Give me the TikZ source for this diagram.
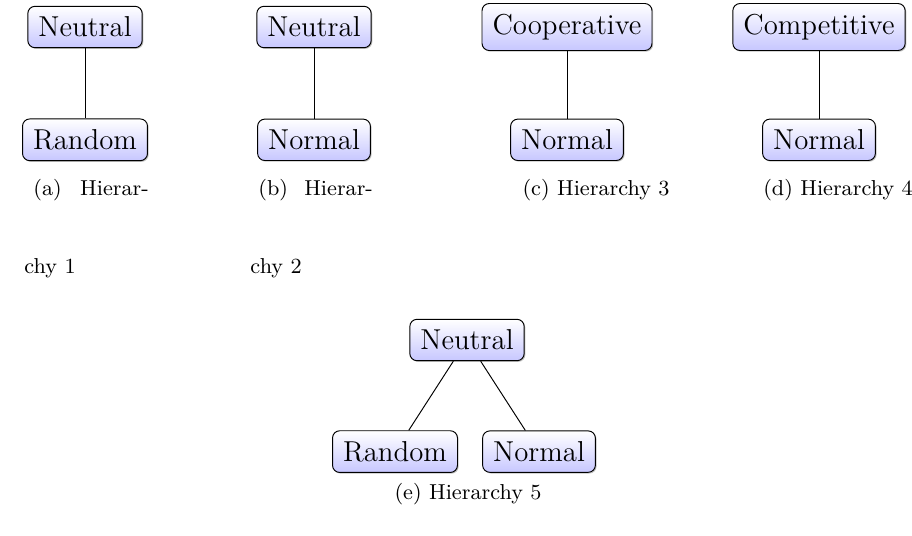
\documentclass[tikz,border=0pt]{standalone}
\usepackage{tikz}
\usetikzlibrary{shapes,positioning,shadows}

\begin{document}
\begin{tikzpicture}[x=0.41667pt,y=-0.41667pt]
    \tikzstyle{hnode}=[rectangle,draw,rounded corners=3pt,inner sep=4.4pt,font=\large,top color=white,bottom color=blue!22,drop shadow={shadow xshift=.5pt,shadow yshift=-.5pt,opacity=.5}]
    \tikzstyle{subcap}=[font=\fontsize{9}{11}\selectfont,inner sep=0pt]
    \useasboundingbox (0,0) rectangle (912,535);

    % hierarchy 1
    \node[hnode] (n1) at (85,27) {Neutral};
    \node[hnode,below=47pt of n1.center,anchor=center] (r1) {Random};
    \draw (n1) -- (r1);
    % hierarchy 2
    \node[hnode] (n2) at (314,27) {Neutral};
    \node[hnode,below=47pt of n2.center,anchor=center] (m2) {Normal};
    \draw (n2) -- (m2);
    % hierarchy 3
    \node[hnode] (c3) at (567,27) {Cooperative};
    \node[hnode,below=47pt of c3.center,anchor=center] (m3) {Normal};
    \draw (c3) -- (m3);
    % hierarchy 4
    \node[hnode] (c4) at (819,27) {Competitive};
    \node[hnode,below=47pt of c4.center,anchor=center] (m4) {Normal};
    \draw (c4) -- (m4);
    % hierarchy 5
    \node[hnode] (n5) at (467,340) {Neutral};
    \node[hnode,below=46.5pt of n5.center,anchor=center,xshift=-30pt] (r5) {Random};
    \node[hnode,below=46.5pt of n5.center,anchor=center,xshift=30pt] (m5) {Normal};
    \draw (n5) -- (r5);
    \draw (n5) -- (m5);

    % subcaptions
    \node[subcap,anchor=west] (ta) at (33,190) {(a)\hspace{0.85em}Hierar-};
    \node[subcap,anchor=west] (ua) at (24,268) {chy 1};
    \node[subcap,anchor=west] (tb) at (258,190) {(b)\hspace{0.75em}Hierar-};
    \node[subcap,anchor=west] (ub) at (250,268) {chy 2};
    \node[subcap] (tc) at (596,190) {(c) Hierarchy 3};
    \node[subcap] (td) at (838,190) {(d) Hierarchy 4};
    \node[subcap] (te) at (468,494) {(e) Hierarchy 5};
\end{tikzpicture}
\end{document}
